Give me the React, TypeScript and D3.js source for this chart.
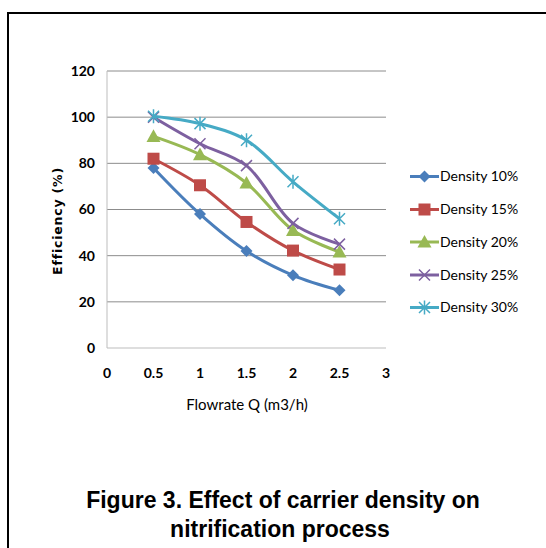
import React from "react";
import * as d3 from "d3";

const flowrates = [0.5, 1, 1.5, 2, 2.5];
const seriesNames = ["Density 10%", "Density 15%", "Density 20%", "Density 25%", "Density 30%"];
const density10 = [78, 58, 42, 31.5, 25];
const density15 = [82, 70.5, 54.6, 42.2, 34];
const density20 = [91.7, 83.8, 71.5, 51, 41.6];
const density25 = [100, 88.5, 79, 54, 45];
const density30 = [100.4, 97.2, 90, 72, 56];
const seriesValues = [density10, density15, density20, density25, density30];
const seriesColors = ["#4A7EBB", "#BE4B48", "#98B954", "#7D60A0", "#46AAC5"];
const markerTypes = ["diamond", "square", "triangle", "x", "star"];
const xTicks = [0, 0.5, 1, 1.5, 2, 2.5, 3];
const yTicks = [0, 20, 40, 60, 80, 100, 120];

const W = 546;
const H = 548;
const plot = { left: 107, right: 386, top: 71, bottom: 348 };
const labelFont = "Lato, 'Liberation Sans', Arial, sans-serif";

function Marker({ type, x, y, color }: { type: string; x: number; y: number; color: string }) {
  if (type === "diamond") {
    const s = 6;
    return <path d={`M${x},${y - s}L${x + s},${y}L${x},${y + s}L${x - s},${y}Z`} fill={color} />;
  }
  if (type === "square") {
    const s = 6;
    return <rect x={x - s} y={y - s} width={2 * s} height={2 * s} fill={color} />;
  }
  if (type === "triangle") {
    const s = 7;
    return <path d={`M${x},${y - s}L${x + s},${y + s * 0.8}L${x - s},${y + s * 0.8}Z`} fill={color} />;
  }
  if (type === "x") {
    const s = 5.5;
    return (
      <path d={`M${x - s},${y - s}L${x + s},${y + s}M${x - s},${y + s}L${x + s},${y - s}`} stroke={color} strokeWidth={1.5} />
    );
  }
  const s = 5.5;
  return (
    <path
      d={`M${x - s},${y - s}L${x + s},${y + s}M${x - s},${y + s}L${x + s},${y - s}M${x},${y - s - 1.5}L${x},${y + s + 1.5}`}
      stroke={color}
      strokeWidth={1.5}
    />
  );
}

export default function App() {
  const xScale = d3.scaleLinear().domain([0, 3]).range([plot.left, plot.right]);
  const yScale = d3.scaleLinear().domain([0, 120]).range([plot.bottom, plot.top]);
  const line = d3
    .line<[number, number]>()
    .x((d) => xScale(d[0]))
    .y((d) => yScale(d[1]))
    .curve(d3.curveCatmullRom.alpha(0.5));

  const legendX = 410;
  const legendYs = [176.5, 209.5, 242, 275, 307.5];

  return (
    <svg width={W} height={H} style={{ position: "absolute", left: 0, top: 0, background: "#fff" }}>
      <rect x={0} y={0} width={W} height={H} fill="#fff" />
      <rect x={8} y={13} width={W + 20} height={H + 20} fill="none" stroke="#000" strokeWidth={2} />

      {yTicks.map((t) => (
        <g key={t}>
          {t > 0 && (
            <line x1={plot.left} x2={plot.right} y1={yScale(t)} y2={yScale(t)} stroke="#8c8c8c" strokeWidth={1} />
          )}
          <text
            x={95}
            y={yScale(t)}
            dy="0.35em"
            textAnchor="end"
            fontFamily={labelFont}
            fontWeight="bold"
            fontSize={14}
            fill="#000"
          >
            {t}
          </text>
        </g>
      ))}
      <line x1={plot.left} x2={plot.left} y1={plot.top} y2={plot.bottom} stroke="#bdbdbd" strokeWidth={1} />
      <line x1={plot.left} x2={plot.right} y1={plot.bottom} y2={plot.bottom} stroke="#bdbdbd" strokeWidth={1} />

      {xTicks.map((t) => (
        <text
          key={t}
          x={xScale(t)}
          y={373}
          dy="0.35em"
          textAnchor="middle"
          fontFamily={labelFont}
          fontWeight="bold"
          fontSize={14}
          fill="#000"
        >
          {t}
        </text>
      ))}

      <text x={247} y={405} dy="0.35em" textAnchor="middle" fontFamily={labelFont} fontSize={15} fill="#000">
        Flowrate Q (m3/h)
      </text>
      <text
        transform={`translate(58,221) rotate(-90)`}
        dy="0.35em"
        textAnchor="middle"
        fontFamily="'DejaVu Sans', Verdana, sans-serif"
        fontWeight="bold"
        fontSize={12.5}
        letterSpacing={0.8}
        fill="#000"
      >
        Efficiency (%)
      </text>

      {seriesValues.map((vals, i) => {
        const pts = flowrates.map((f, j) => [f, vals[j]] as [number, number]);
        return (
          <g key={seriesNames[i]}>
            <path d={line(pts) || ""} fill="none" stroke={seriesColors[i]} strokeWidth={3} />
            {pts.map((p, j) => (
              <Marker key={j} type={markerTypes[i]} x={xScale(p[0])} y={yScale(p[1])} color={seriesColors[i]} />
            ))}
          </g>
        );
      })}

      {seriesNames.map((name, i) => (
        <g key={name}>
          <line x1={legendX} x2={legendX + 29} y1={legendYs[i]} y2={legendYs[i]} stroke={seriesColors[i]} strokeWidth={3} />
          <Marker type={markerTypes[i]} x={legendX + 14.5} y={legendYs[i]} color={seriesColors[i]} />
          <text x={legendX + 30} y={legendYs[i]} dy="0.35em" fontFamily={labelFont} fontSize={14} fill="#000">
            {name}
          </text>
        </g>
      ))}

      <text x={283} y={507.5} textAnchor="middle" fontFamily="'Liberation Sans', Arial, sans-serif" fontWeight="bold" fontSize={23} fill="#000">
        Figure 3. Effect of carrier density on
      </text>
      <text x={280} y={537} textAnchor="middle" fontFamily="'Liberation Sans', Arial, sans-serif" fontWeight="bold" fontSize={23} fill="#000">
        nitrification process
      </text>
    </svg>
  );
}
